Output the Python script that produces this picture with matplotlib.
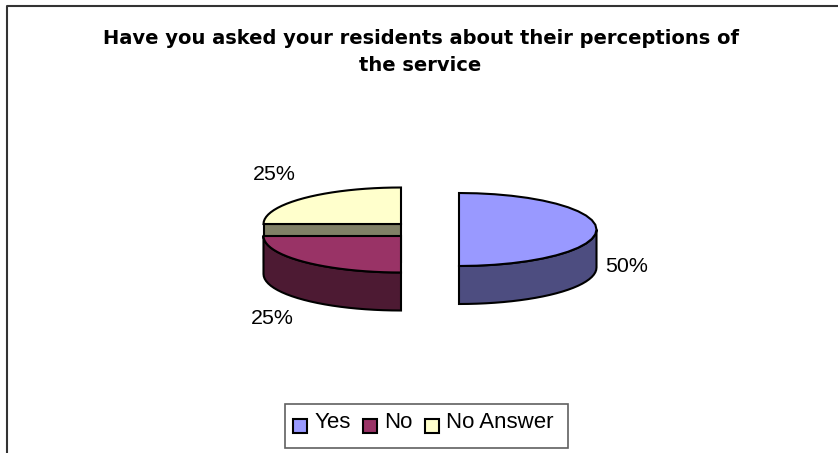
import numpy as np
import matplotlib
matplotlib.use('Agg')
import matplotlib.pyplot as plt
from matplotlib.patches import Polygon, Rectangle

W, H = 838, 453

categories = ['Yes', 'No', 'No Answer']
shares = [50, 25, 25]
topColours = ['#9999FF', '#993366', '#FFFFCC']
sideColours = ['#4D4D80', '#4D1A33', '#808066']
title = 'Have you asked your residents about their perceptions of\nthe service'

plt.rcParams['font.family'] = ['Liberation Sans', 'DejaVu Sans']

# pie geometry in pixels
centres = {'Yes': (459, 229.5), 'No': (401, 236), 'No Answer': (401, 224)}
labelPos = {'Yes': (627, 267), 'No': (272, 318), 'No Answer': (274, 175)}
rx, ry, depth = 137.5, 36.5, 38

fig = plt.figure(figsize=(W / 100, H / 100), dpi=100)
ax = fig.add_axes([0, 0, 1, 1])
ax.set_xlim(0, W)
ax.set_ylim(H, 0)
ax.axis('off')

# outer frame, only top and left show
ax.plot([7, 7, W], [H, 5.5, 5.5], color='#333333', lw=1.5, zorder=1)

ax.text(420.5, 52, title, ha='center', va='center', fontsize=14,
        fontweight='bold', family='DejaVu Sans', linespacing=1.55)


def arc(cx, cy, a0, a1, n=25):
    t = np.radians(np.linspace(a0, a1, n))
    return np.column_stack((cx + rx * np.cos(t), cy - ry * np.sin(t)))


# slices run clockwise from twelve o'clock
edges = 90 - np.cumsum([0] + shares) * 3.6

for i, name in enumerate(categories):
    a0, a1 = edges[i], edges[i + 1]
    cx, cy = centres[name]
    # outer wall, only the part of the rim facing the viewer
    hi, lo = min(a0, 0), max(a1, -180)
    if hi > lo:
        rim = arc(cx, cy, hi, lo)
        wall = np.vstack((rim, rim[::-1] + [0, depth]))
        ax.add_patch(Polygon(wall, fc=sideColours[i], ec='k', lw=1.5, zorder=3))
    # back slice shows its cut face through the gap
    if hi <= lo:
        ax.add_patch(Rectangle((cx - rx, cy), rx, depth, fc=sideColours[i],
                               ec='k', lw=1.5, zorder=2))
    face = np.vstack(([cx, cy], arc(cx, cy, a0, a1)))
    ax.add_patch(Polygon(face, fc=topColours[i], ec='k', lw=1.5, zorder=4))

for name, v in zip(categories, shares):
    ax.text(*labelPos[name], f'{v}%', ha='center', va='center', fontsize=15.4)

# legend box
ax.add_patch(Rectangle((285, 403.5), 283, 44, fc='white', ec='#606060', lw=1.2, zorder=2))
swatchX = [292.5, 362.5, 424.5]
textX = [315, 384, 446]
for x, tx, name, c in zip(swatchX, textX, categories, topColours):
    ax.add_patch(Rectangle((x, 418.5), 14, 14, fc=c, ec='k', lw=1.5, zorder=3))
    ax.text(tx, 423, name, ha='left', va='center', fontsize=16)

fig.savefig('out.png', dpi=100)
